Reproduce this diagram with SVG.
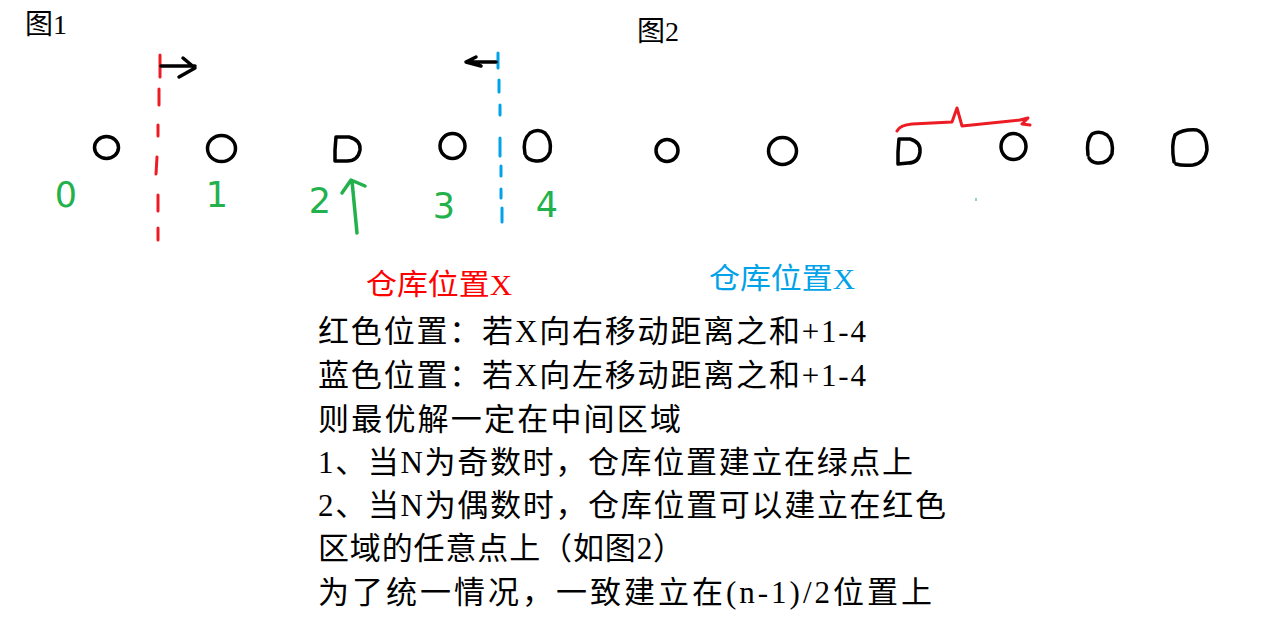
<svg xmlns="http://www.w3.org/2000/svg" width="1264" height="625" viewBox="0 0 1264 625">
<style>
.pt{fill:none;stroke:#000;stroke-width:3.5;stroke-linecap:round;stroke-linejoin:round}
.red{fill:none;stroke:#ed1c24;stroke-width:3;stroke-linecap:round;stroke-linejoin:round}
.blue{fill:none;stroke:#00a2e8;stroke-width:3;stroke-linecap:round}
.grn{fill:none;stroke:#22b14c;stroke-width:3.5;stroke-linecap:round;stroke-linejoin:round}
.num{font-family:"DejaVu Sans",sans-serif;font-size:35px;fill:#22b14c;text-anchor:middle}
.fig{font-family:"Liberation Serif","Noto Sans CJK SC",serif;font-size:28px;fill:#000}
.body{font-family:"Liberation Serif","Noto Sans CJK SC",serif;font-size:31px;fill:#000}
</style>
<rect width="1264" height="625" fill="#fff"/>
<text class="fig" x="25" y="34">图1</text>
<text class="fig" x="637" y="41">图2</text>

<g id="fig1-points">
<ellipse class="pt" cx="106.5" cy="147.5" rx="12" ry="11"/>
<ellipse class="pt" cx="221.5" cy="148.5" rx="14" ry="13"/>
<path class="pt" d="M336,137 L349,137 Q361,140 360,150 Q358,161 347,161 L335,161 L335,150 L336,137"/>
<ellipse class="pt" cx="452.5" cy="146" rx="12.5" ry="12.5"/>
<path class="pt" d="M525,154 Q522,140 530,133 Q538,128 545,133 Q552,140 550,152 Q546,162 536,161 Q528,160 526,156"/>
</g>

<g id="fig2-points">
<ellipse class="pt" cx="667" cy="150.5" rx="11" ry="11"/>
<ellipse class="pt" cx="782.5" cy="151" rx="14" ry="13.5"/>
<path class="pt" d="M899,139 L910,139 Q921,142 920,152 Q919,163 908,163 L898,164 L898,152 L899,139"/>
<ellipse class="pt" cx="1013.5" cy="146.5" rx="12.5" ry="13"/>
<path class="pt" d="M1088,155 Q1086,140 1092,134 Q1099,130 1107,135 Q1114,141 1112,154 Q1108,164 1097,163 Q1091,162 1089,158"/>
<path class="pt" d="M1174,162 Q1171,145 1175,135 Q1183,129 1197,130 Q1207,134 1207,150 Q1205,163 1193,165 Q1182,166 1176,164"/>
<path d="M976,198 L976,201" stroke="#22b14c" stroke-width="1"/>
</g>

<g id="connectors">
<path class="red" d="M160,55 L160,77 M159,89 L159,105 M158,125 L158,136 M157,157 L156,174 M158,195 L158,211 M158,228 L158,240"/>
<path class="blue" d="M498,53 L498,68 M499,80 L499,92 M500,105 L500,115 M500,138 L500,156 M501,166 L501,176 M501,189 L501,198 M502,208 L502,222"/>
<path class="pt" d="M161,66 L195,66 M183,58 L195,68 L179,77"/>
<path class="pt" d="M496,62 L466,62 M476,57 L466,62 L481,66"/>
<path class="grn" d="M357,233 L352,181 M342,193 L351,180 L365,186"/>
<path class="red" d="M897,131 Q900,125 912,124 L952,122 L957,108 L962,126 L1020,120 L1028,118 L1022,124 L1030,125"/>
</g>

<g id="labels">
<text class="num" x="66" y="207">0</text>
<text class="num" x="217" y="207">1</text>
<text class="num" x="320" y="213">2</text>
<text class="num" x="444" y="218">3</text>
<text class="num" x="547" y="217">4</text>
<text class="body" x="366" y="295" style="fill:#ff0000;font-size:29px" textLength="146" lengthAdjust="spacingAndGlyphs">仓库位置X</text>
<text class="body" x="709" y="289" style="fill:#00a2e8;font-size:29px" textLength="146" lengthAdjust="spacingAndGlyphs">仓库位置X</text>
<text class="body" x="318" y="342" textLength="548">红色位置：若X向右移动距离之和+1-4</text>
<text class="body" x="318" y="386" textLength="548">蓝色位置：若X向左移动距离之和+1-4</text>
<text class="body" x="318" y="430" textLength="363">则最优解一定在中间区域</text>
<text class="body" x="318" y="473" textLength="595">1、当N为奇数时，仓库位置建立在绿点上</text>
<text class="body" x="318" y="516" textLength="628">2、当N为偶数时，仓库位置可以建立在红色</text>
<text class="body" x="318" y="559" textLength="366">区域的任意点上（如图2）</text>
<text class="body" x="318" y="603" textLength="614">为了统一情况，一致建立在(n-1)/2位置上</text>
</g>
</svg>
